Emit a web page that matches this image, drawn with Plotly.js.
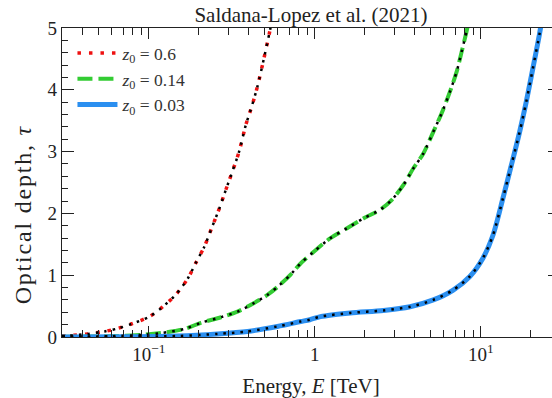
<!DOCTYPE html>
<html>
<head>
<meta charset="utf-8">
<script src="https://cdn.plot.ly/plotly-3.0.1.min.js"></script>
<style>
html, body { margin:0; padding:0; overflow:hidden; background:#fff; }
#chart { width:562px; height:398px; }
</style>
</head>
<body>
<div id="chart"></div>
<script>
// Energies in TeV and optical depths
const E_z06   = [0.030, 0.0327, 0.0431, 0.0542, 0.0653, 0.0784, 0.101, 0.119, 0.146, 0.172, 0.192, 0.216, 0.239, 0.266, 0.291, 0.319, 0.350, 0.384, 0.417, 0.451, 0.494, 0.535, 0.55];
const tau_z06 = [0.015, 0.02, 0.05, 0.09, 0.14, 0.21, 0.33, 0.47, 0.69, 0.95, 1.20, 1.46, 1.76, 2.08, 2.38, 2.68, 3.00, 3.43, 3.73, 4.05, 4.51, 4.94, 5.1];

const E_z014   = [0.030, 0.0595, 0.0942, 0.119, 0.164, 0.206, 0.272, 0.342, 0.431, 0.518, 0.608, 0.715, 0.821, 0.986, 1.242, 1.564, 1.968, 2.478, 2.912, 3.420, 3.926, 4.508, 5.175, 5.81, 6.52, 7.15, 7.66, 8.20, 8.45];
const tau_z014 = [0.004, 0.013, 0.037, 0.065, 0.13, 0.23, 0.32, 0.41, 0.55, 0.68, 0.83, 1.01, 1.19, 1.38, 1.60, 1.76, 1.92, 2.06, 2.22, 2.46, 2.73, 2.97, 3.32, 3.62, 3.97, 4.29, 4.61, 4.94, 5.1];

const E_z003   = [0.030, 0.075, 0.150, 0.260, 0.393, 0.595, 0.821, 0.933, 1.082, 1.637, 2.594, 3.75, 5.175, 6.82, 8.59, 10.32, 11.85, 13.61, 15.28, 17.14, 18.80, 20.6, 22.6, 23.2];
const tau_z003 = [0.0, 0.005, 0.016, 0.05, 0.09, 0.17, 0.25, 0.28, 0.33, 0.39, 0.43, 0.49, 0.60, 0.76, 0.98, 1.28, 1.65, 2.25, 2.78, 3.32, 3.81, 4.35, 4.91, 5.1];

const seriesNames = ['<i>z</i><sub>0</sub> = 0.6', '<i>z</i><sub>0</sub> = 0.14', '<i>z</i><sub>0</sub> = 0.03'];

const xMajorTicks = [0.1, 1, 10];
const xMajorLabels = ['10<sup>−1</sup>', '1', '10<sup>1</sup>'];
const xMinorTicks = [0.04,0.05,0.06,0.07,0.08,0.09, 0.2,0.3,0.4,0.5,0.6,0.7,0.8,0.9, 2,3,4,5,6,7,8,9, 20];
const yMajorTicks = [0, 1, 2, 3, 4, 5];

const FONT = 'Liberation Serif, Times New Roman, serif';

const traces = [
  {x:E_z06, y:tau_z06, name:seriesNames[0], mode:'lines',
   line:{color:'#ee1111', width:3.5, dash:'3.5px,8px', shape:'spline', smoothing:0.8}},
  {x:E_z014, y:tau_z014, name:seriesNames[1], mode:'lines',
   line:{color:'#33cc33', width:4, dash:'15px,6px', shape:'spline', smoothing:0.8}},
  {x:E_z003, y:tau_z003, name:seriesNames[2], mode:'lines',
   line:{color:'#2b8ff0', width:5, shape:'spline', smoothing:0.8}},
  {x:E_z06, y:tau_z06, mode:'lines', showlegend:false, hoverinfo:'skip',
   line:{color:'#000', width:2.5, dash:'2.5px,6px', shape:'spline', smoothing:0.8}},
  {x:E_z014, y:tau_z014, mode:'lines', showlegend:false, hoverinfo:'skip',
   line:{color:'#000', width:2.5, dash:'2.5px,6px', shape:'spline', smoothing:0.8}},
  {x:E_z003, y:tau_z003, mode:'lines', showlegend:false, hoverinfo:'skip',
   line:{color:'#000', width:2.5, dash:'2.5px,6px', shape:'spline', smoothing:0.8}}
];

const layout = {
  width:562, height:398,
  margin:{l:62, r:1.5, t:27.7, b:60.7},
  paper_bgcolor:'#fff', plot_bgcolor:'#fff',
  font:{family:FONT, color:'#222', size:18},
  title:{text:'Saldana-Lopez et al. (2021)', font:{family:FONT, size:21, color:'#222'},
         x:0.5, xref:'paper', xanchor:'center', y:1-15/398, yref:'container', yanchor:'middle'},
  xaxis:{type:'log', range:[Math.log10(0.03), Math.log10(30)],
         tickmode:'array', tickvals:xMajorTicks, ticktext:xMajorLabels,
         ticks:'inside', ticklen:11, tickwidth:1, tickcolor:'#222',
         showline:true, linecolor:'#222', linewidth:1.3, mirror:'ticks',
         showgrid:false, zeroline:false,
         tickfont:{family:FONT, size:19, color:'#222'},
         minor:{tickmode:'array', tickvals:xMinorTicks, ticks:'inside', ticklen:7, tickwidth:1, tickcolor:'#222', showgrid:false},
         title:{text:'Energy, <i>E</i> [TeV]', font:{family:FONT, size:21, color:'#222'}, standoff:18}},
  yaxis:{range:[0,5], tickmode:'array', tickvals:yMajorTicks,
         ticks:'inside', ticklen:12, tickwidth:1, tickcolor:'#222',
         showline:true, linecolor:'#222', linewidth:1.3, mirror:'ticks',
         showgrid:false, zeroline:false,
         tickfont:{family:FONT, size:19, color:'#222'},
         minor:{dtick:0.2, ticks:'inside', ticklen:6, tickwidth:1, tickcolor:'#222', showgrid:false}},
  annotations:[{text:'Optical depth, <i>τ</i>', textangle:-90, showarrow:false,
                xref:'paper', yref:'paper', x:(23-62)/498.5, y:(337.3-214)/309.6,
                xanchor:'center', yanchor:'middle',
                font:{family:FONT, size:24, color:'#222'}}],
  legend:{x:0.021, y:0.977, xanchor:'left', yanchor:'top', bgcolor:'rgba(0,0,0,0)',
          font:{family:FONT, size:17.5, color:'#333'}, tracegroupgap:0, itemwidth:40},
  showlegend:true
};

Plotly.newPlot('chart', traces, layout, {staticPlot:true, displayModeBar:false}).then(function(gd){
  const t = gd.querySelector('.annotation-text');
  if (t) { t.setAttribute('letter-spacing', '1.8px'); t.style.letterSpacing = '1.8px'; }
});
</script>
</body>
</html>
